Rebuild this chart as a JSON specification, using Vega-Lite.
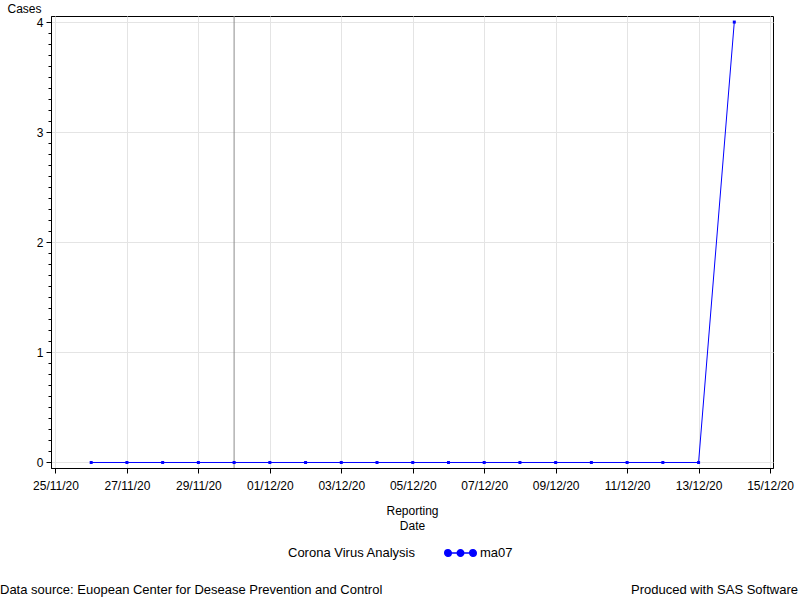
{
  "$schema": "https://vega.github.io/schema/vega-lite/v6.json",
  "width": 722,
  "height": 452,
  "autosize": "none",
  "padding": {"left": 51, "top": 16, "right": 27, "bottom": 132},
  "background": "white",
  "config": {
    "font": "Liberation Sans",
    "view": {"stroke": "black", "strokeWidth": 1},
    "axis": {
      "labelFont": "Liberation Sans",
      "labelFontSize": 12,
      "labelColor": "black",
      "titleFont": "Liberation Sans",
      "titleFontSize": 12,
      "titleFontWeight": "normal",
      "titleColor": "black",
      "domainColor": "black",
      "tickColor": "black",
      "gridColor": "#e4e4e4",
      "gridWidth": 1
    }
  },
  "resolve": {"axis": {"y": "independent"}},
  "data": {
    "values": [
      {"Date": "2020-11-26", "Cases": 0},
      {"Date": "2020-11-27", "Cases": 0},
      {"Date": "2020-11-28", "Cases": 0},
      {"Date": "2020-11-29", "Cases": 0},
      {"Date": "2020-11-30", "Cases": 0},
      {"Date": "2020-12-01", "Cases": 0},
      {"Date": "2020-12-02", "Cases": 0},
      {"Date": "2020-12-03", "Cases": 0},
      {"Date": "2020-12-04", "Cases": 0},
      {"Date": "2020-12-05", "Cases": 0},
      {"Date": "2020-12-06", "Cases": 0},
      {"Date": "2020-12-07", "Cases": 0},
      {"Date": "2020-12-08", "Cases": 0},
      {"Date": "2020-12-09", "Cases": 0},
      {"Date": "2020-12-10", "Cases": 0},
      {"Date": "2020-12-11", "Cases": 0},
      {"Date": "2020-12-12", "Cases": 0},
      {"Date": "2020-12-13", "Cases": 0},
      {"Date": "2020-12-14", "Cases": 4}
    ]
  },
  "encoding": {
    "x": {
      "field": "Date",
      "type": "temporal",
      "scale": {
        "type": "utc",
        "domain": [
          {"year": 2020, "month": 11, "date": 24, "hours": 21, "utc": true},
          {"year": 2020, "month": 12, "date": 15, "hours": 2, "utc": true}
        ],
        "nice": false
      },
      "axis": {
        "values": [
          {"year": 2020, "month": 11, "date": 25, "utc": true},
          {"year": 2020, "month": 11, "date": 27, "utc": true},
          {"year": 2020, "month": 11, "date": 29, "utc": true},
          {"year": 2020, "month": 12, "date": 1, "utc": true},
          {"year": 2020, "month": 12, "date": 3, "utc": true},
          {"year": 2020, "month": 12, "date": 5, "utc": true},
          {"year": 2020, "month": 12, "date": 7, "utc": true},
          {"year": 2020, "month": 12, "date": 9, "utc": true},
          {"year": 2020, "month": 12, "date": 11, "utc": true},
          {"year": 2020, "month": 12, "date": 13, "utc": true},
          {"year": 2020, "month": 12, "date": 15, "utc": true}
        ],
        "format": "%d/%m/%y",
        "grid": true,
        "tickSize": 5,
        "labelPadding": 7,
        "labelOverlap": false,
        "labelFlush": false,
        "labelBound": false,
        "title": ["Reporting", "Date"],
        "titleBaseline": "top",
        "titleX": 361,
        "titleY": 37,
        "titleLineHeight": 15
      }
    }
  },
  "layer": [
    {
      "data": {"values": [{"Date": "2020-11-30"}]},
      "mark": {"type": "rule", "color": "#8c8c8c", "strokeWidth": 1},
      "encoding": {"x": {"field": "Date", "type": "temporal"}}
    },
    {
      "mark": {"type": "line", "color": "#0000ff", "strokeWidth": 1},
      "encoding": {
        "y": {
          "field": "Cases",
          "type": "quantitative",
          "scale": {"domain": [-0.05, 4.055], "nice": false, "zero": false},
          "axis": {
            "orient": "left",
            "values": [0, 1, 2, 3, 4],
            "format": "d",
            "labelPadding": 3,
            "grid": true,
            "tickSize": 5,
            "title": "Cases",
            "titleAngle": 0,
            "titleAlign": "left",
            "titleBaseline": "alphabetic",
            "titleX": -44,
            "titleY": -4
          }
        }
      }
    },
    {
      "mark": {"type": "point", "shape": "square", "filled": true, "size": 9, "opacity": 1},
      "encoding": {
        "y": {
          "field": "Cases",
          "type": "quantitative",
          "axis": {
            "orient": "left",
            "values": [0.1, 0.2, 0.3, 0.4, 0.5, 0.6, 0.7, 0.8, 0.9, 1.1, 1.2, 1.3, 1.4, 1.5, 1.6, 1.7, 1.8, 1.9, 2.1, 2.2, 2.3, 2.4, 2.5, 2.6, 2.7, 2.8, 2.9, 3.1, 3.2, 3.3, 3.4, 3.5, 3.6, 3.7, 3.8, 3.9],
            "labels": false,
            "domain": false,
            "grid": false,
            "ticks": true,
            "tickSize": 3,
            "title": null
          }
        },
        "color": {
          "datum": "ma07",
          "scale": {"range": ["#0000ff"]},
          "legend": {
            "orient": "none",
            "legendX": 237,
            "legendY": 523.5,
            "direction": "horizontal",
            "title": "Corona Virus Analysis",
            "titleOrient": "left",
            "titleAnchor": "middle",
            "titleFont": "Liberation Sans",
            "titleFontSize": 13,
            "titleFontWeight": "normal",
            "titleColor": "black",
            "titleBaseline": "middle",
            "titlePadding": 31,
            "labelFont": "Liberation Sans",
            "labelFontSize": 13,
            "labelColor": "black",
            "labelOffset": 6,
            "symbolType": "M-1.26,0A0.26,0.26 0 1,0 -0.74,0A0.26,0.26 0 1,0 -1.26,0Z M-0.26,0A0.26,0.26 0 1,0 0.26,0A0.26,0.26 0 1,0 -0.26,0Z M0.74,0A0.26,0.26 0 1,0 1.26,0A0.26,0.26 0 1,0 0.74,0Z M-1,0L1,0",
            "symbolSize": 625,
            "symbolOpacity": 1,
            "encode": {
              "title": {"update": {"dy": {"value": 3}}},
              "symbols": {
                "update": {
                  "fill": {"value": "#0000ff"},
                  "stroke": {"value": "#0000ff"},
                  "strokeWidth": {"value": 1.5},
                  "size": {"value": 625},
                  "opacity": {"value": 1}
                }
              }
            }
          }
        }
      }
    },
    {
      "data": {"values": [{"note": "Data source: Euopean Center for Desease Prevention and Control"}]},
      "mark": {"type": "text", "x": -51, "y": 577.5, "align": "left", "baseline": "alphabetic", "font": "Liberation Sans", "fontSize": 13, "color": "black"},
      "encoding": {"text": {"field": "note"}, "x": null}
    },
    {
      "data": {"values": [{"note": "Produced with SAS Software"}]},
      "mark": {"type": "text", "x": 747, "y": 577.5, "align": "right", "baseline": "alphabetic", "font": "Liberation Sans", "fontSize": 13, "color": "black"},
      "encoding": {"text": {"field": "note"}, "x": null}
    }
  ]
}
